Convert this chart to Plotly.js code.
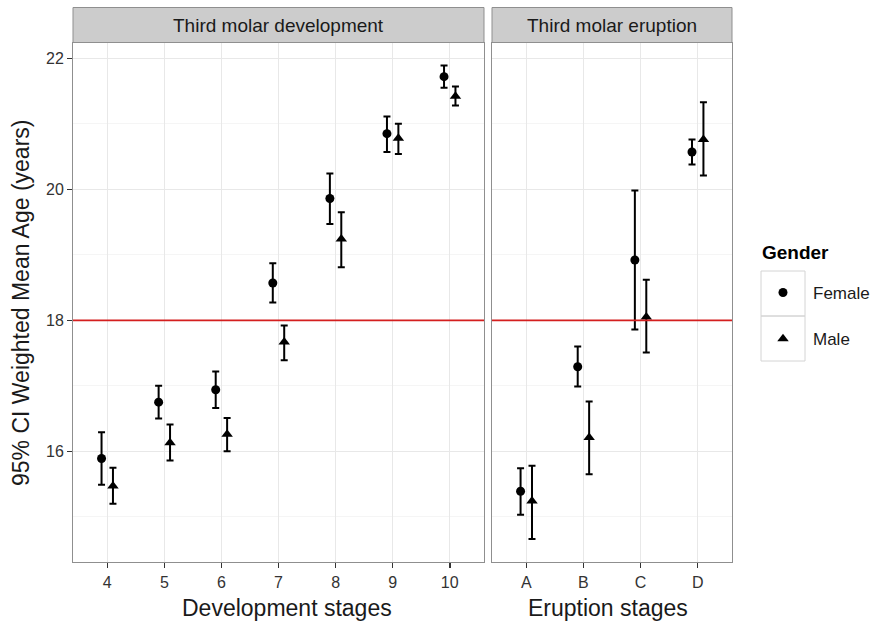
<!DOCTYPE html>
<html>
<head>
<meta charset="utf-8">
<script src="https://cdn.plot.ly/plotly-3.0.1.min.js"></script>
<style>html,body{margin:0;padding:0;background:#fff;}#chart{width:879px;height:623px;}</style>
</head>
<body>
<div id="chart"></div>
<script>
// ---- Data ----
const devStages = [4, 5, 6, 7, 8, 9, 10];
const femaleDevMean = [15.89, 16.75, 16.94, 18.57, 19.86, 20.85, 21.72];
const femaleDevLow  = [15.49, 16.50, 16.66, 18.27, 19.47, 20.57, 21.55];
const femaleDevHigh = [16.29, 17.00, 17.22, 18.87, 20.24, 21.11, 21.89];
const maleDevMean   = [15.47, 16.13, 16.26, 17.67, 19.24, 20.78, 21.42];
const maleDevLow    = [15.20, 15.86, 16.00, 17.39, 18.81, 20.54, 21.28];
const maleDevHigh   = [15.75, 16.41, 16.51, 17.92, 19.65, 21.00, 21.57];

const eruptStages = ['A', 'B', 'C', 'D'];
const femaleErMean = [15.39, 17.29, 18.92, 20.57];
const femaleErLow  = [15.03, 16.99, 17.86, 20.38];
const femaleErHigh = [15.74, 17.60, 19.98, 20.76];
const maleErMean   = [15.24, 16.21, 18.05, 20.76];
const maleErLow    = [14.66, 15.65, 17.51, 20.21];
const maleErHigh   = [15.78, 16.76, 18.62, 21.33];

const yTicks = [16, 18, 20, 22];
const threshold = 18;
const panelTitles = ['Third molar development', 'Third molar eruption'];
const xTitles = ['Development stages', 'Eruption stages'];
const yTitle = '95% CI Weighted Mean Age (years)';
const legendTitle = 'Gender';
const genders = ['Female', 'Male'];

// ---- Styling helpers ----
const FONT = 'Liberation Sans, Arial, Helvetica, sans-serif';
const W = 879, H = 623;
const px = v => v / W;
const py = v => 1 - v / H;
const dodge = 0.1;

function trace(xs, mean, low, high, sym, size, xa, ya, name, show) {
  return {
    type: 'scatter', mode: 'markers',
    x: xs, y: mean, xaxis: xa, yaxis: ya,
    name: name, legendgroup: name, showlegend: show,
    marker: {symbol: sym, size: size, color: '#000'},
    error_y: {
      type: 'data', symmetric: false,
      array: high.map((h, i) => h - mean[i]),
      arrayminus: low.map((l, i) => mean[i] - l),
      color: '#000', thickness: 2, width: 3.5
    },
    hoverinfo: 'skip'
  };
}

const devIdx = devStages;
const erIdx = eruptStages.map((_, i) => i);

const data = [
  trace(devIdx.map(v => v - dodge), femaleDevMean, femaleDevLow, femaleDevHigh, 'circle', 9, 'x', 'y', genders[0], true),
  trace(devIdx.map(v => v + dodge), maleDevMean, maleDevLow, maleDevHigh, 'triangle-up', 10, 'x', 'y', genders[1], true),
  trace(erIdx.map(v => v - dodge), femaleErMean, femaleErLow, femaleErHigh, 'circle', 9, 'x2', 'y2', genders[0], false),
  trace(erIdx.map(v => v + dodge), maleErMean, maleErLow, maleErHigh, 'triangle-up', 10, 'x2', 'y2', genders[1], false)
];

const yRange = [14.305, 22.234];
const axisCommon = {
  showline: true, mirror: true, linecolor: '#8f8f8f', linewidth: 1,
  gridcolor: '#e8e8e8', gridwidth: 1, zeroline: false,
  ticks: 'outside', ticklen: 5, tickwidth: 1.5, tickcolor: '#333',
  tickfont: {family: FONT, size: 16, color: '#333'}, fixedrange: true
};

const layout = {
  width: W, height: H,
  margin: {l: 0, r: 0, t: 0, b: 0},
  paper_bgcolor: '#fff', plot_bgcolor: '#fff',
  font: {family: FONT, color: '#1a1a1a'},
  xaxis: Object.assign({}, axisCommon, {
    domain: [px(73), px(484)], range: [3.4, 10.6],
    tickmode: 'array', tickvals: devStages, ticktext: devStages.map(String),
    anchor: 'y'
  }),
  xaxis2: Object.assign({}, axisCommon, {
    domain: [px(492), px(732)], range: [-0.6, 3.6],
    tickmode: 'array', tickvals: erIdx, ticktext: eruptStages,
    anchor: 'y2'
  }),
  yaxis: Object.assign({}, axisCommon, {
    domain: [py(562.3), py(43)], range: yRange,
    tickmode: 'array', tickvals: yTicks,
    minor: {tickmode: 'linear', tick0: 15, dtick: 2, showgrid: true, gridcolor: '#f5f5f5', gridwidth: 1, ticks: ''},
    anchor: 'x'
  }),
  yaxis2: Object.assign({}, axisCommon, {
    domain: [py(562.3), py(43)], range: yRange, matches: 'y',
    tickmode: 'array', tickvals: yTicks, showticklabels: false, ticks: '',
    minor: {tickmode: 'linear', tick0: 15, dtick: 2, showgrid: true, gridcolor: '#f5f5f5', gridwidth: 1, ticks: ''},
    anchor: 'x2'
  }),
  showlegend: true,
  legend: {
    x: px(753), xanchor: 'left', y: py(275), yanchor: 'top',
    traceorder: 'grouped', tracegroupgap: 21, itemwidth: 50,
    font: {family: FONT, size: 17, color: '#1a1a1a'},
    itemsizing: 'trace', bgcolor: 'rgba(0,0,0,0)'
  },
  shapes: [
    {type: 'line', xref: 'x domain', yref: 'y', x0: 0, x1: 1, y0: threshold, y1: threshold,
     line: {color: '#d41f1f', width: 1.8}, layer: 'above'},
    {type: 'line', xref: 'x2 domain', yref: 'y2', x0: 0, x1: 1, y0: threshold, y1: threshold,
     line: {color: '#d41f1f', width: 1.8}, layer: 'above'},
    {type: 'rect', xref: 'paper', yref: 'paper', x0: px(73), x1: px(484), y0: py(42.5), y1: py(7.5),
     fillcolor: '#cccccc', line: {color: '#8f8f8f', width: 1}, layer: 'below'},
    {type: 'rect', xref: 'paper', yref: 'paper', x0: px(492), x1: px(732), y0: py(42.5), y1: py(7.5),
     fillcolor: '#cccccc', line: {color: '#8f8f8f', width: 1}, layer: 'below'},
    {type: 'rect', xref: 'paper', yref: 'paper', x0: px(761), x1: px(805), y0: py(316), y1: py(271),
     fillcolor: 'rgba(0,0,0,0)', line: {color: '#d4d4d4', width: 1}, layer: 'below'},
    {type: 'rect', xref: 'paper', yref: 'paper', x0: px(761), x1: px(805), y0: py(361), y1: py(316),
     fillcolor: 'rgba(0,0,0,0)', line: {color: '#d4d4d4', width: 1}, layer: 'below'}
  ],
  annotations: [
    {text: panelTitles[0], xref: 'paper', yref: 'paper', x: px(278.5), y: py(25), xanchor: 'center', yanchor: 'middle',
     showarrow: false, font: {family: FONT, size: 19, color: '#1a1a1a'}},
    {text: panelTitles[1], xref: 'paper', yref: 'paper', x: px(612), y: py(25), xanchor: 'center', yanchor: 'middle',
     showarrow: false, font: {family: FONT, size: 19, color: '#1a1a1a'}},
    {text: xTitles[0], xref: 'paper', yref: 'paper', x: px(287), y: py(608), xanchor: 'center', yanchor: 'middle',
     showarrow: false, font: {family: FONT, size: 23, color: '#1a1a1a'}},
    {text: xTitles[1], xref: 'paper', yref: 'paper', x: px(608), y: py(608), xanchor: 'center', yanchor: 'middle',
     showarrow: false, font: {family: FONT, size: 23, color: '#1a1a1a'}},
    {text: yTitle, xref: 'paper', yref: 'paper', x: px(21), y: py(303), xanchor: 'center', yanchor: 'middle',
     textangle: -90, showarrow: false, font: {family: FONT, size: 23, color: '#1a1a1a'}},
    {text: '<b>' + legendTitle + '</b>', xref: 'paper', yref: 'paper', x: px(760), y: py(253), xanchor: 'left', yanchor: 'middle',
     showarrow: false, font: {family: FONT, size: 19, color: '#000'}}
  ]
};

Plotly.newPlot('chart', data, layout, {displayModeBar: false, staticPlot: true});
</script>
</body>
</html>
